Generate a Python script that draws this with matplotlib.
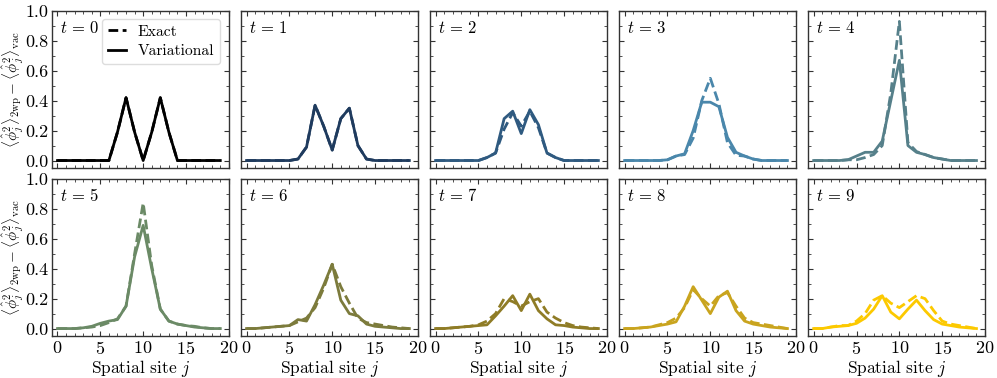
import numpy as np
import matplotlib
matplotlib.use("Agg")
import matplotlib.pyplot as plt
from matplotlib.ticker import MultipleLocator, FormatStrFormatter

plt.rcParams['font.family'] = 'serif'
plt.rcParams['font.serif'] = ['cmr10', 'DejaVu Serif']
plt.rcParams['mathtext.fontset'] = 'cm'
plt.rcParams['axes.formatter.use_mathtext'] = True
plt.rcParams['font.size'] = 12.5

sites = np.arange(20)
times = list(range(10))
colors = ['#000000', '#1f3b5e', '#2f5a80', '#4a87ab', '#56808a',
          '#6b8a66', '#7c7b3c', '#8f7c26', '#c9a41e', '#fcc900']

exact = [
    [0, 0, 0, 0, 0, 0, 0, 0.19, 0.42, 0.19, 0.0, 0.19, 0.42, 0.19, 0, 0, 0, 0, 0, 0],
    [0, 0, 0, 0, 0, 0, 0.01, 0.09, 0.37, 0.23, 0.07, 0.28, 0.35, 0.10, 0.01, 0, 0, 0, 0, 0],
    [0, 0, 0, 0, 0, 0, 0.02, 0.05, 0.21, 0.32, 0.23, 0.33, 0.22, 0.05, 0.02, 0, 0, 0, 0, 0],
    [0, 0, 0, 0, 0, 0.005, 0.03, 0.04, 0.15, 0.40, 0.55, 0.38, 0.12, 0.035, 0.03, 0.01, 0, 0, 0, 0],
    [0, 0, 0, 0, 0.005, 0.005, 0.02, 0.04, 0.10, 0.45, 0.93, 0.12, 0.06, 0.04, 0.02, 0.01, 0, 0, 0, 0],
    [0, 0, 0, 0.005, 0.01, 0.02, 0.04, 0.065, 0.15, 0.50, 0.84, 0.42, 0.13, 0.05, 0.03, 0.02, 0.015, 0.005, 0, 0],
    [0, 0, 0.005, 0.01, 0.015, 0.02, 0.045, 0.07, 0.14, 0.27, 0.43, 0.28, 0.17, 0.07, 0.04, 0.03, 0.02, 0.01, 0.005, 0],
    [0, 0, 0.005, 0.01, 0.015, 0.025, 0.05, 0.10, 0.20, 0.18, 0.15, 0.18, 0.20, 0.11, 0.07, 0.04, 0.02, 0.01, 0.005, 0],
    [0, 0, 0.005, 0.01, 0.025, 0.04, 0.07, 0.14, 0.26, 0.20, 0.15, 0.22, 0.24, 0.15, 0.07, 0.04, 0.03, 0.02, 0.01, 0],
    [0, 0, 0.01, 0.02, 0.02, 0.05, 0.10, 0.19, 0.22, 0.17, 0.14, 0.18, 0.22, 0.20, 0.12, 0.05, 0.03, 0.02, 0.01, 0],
]

variational = [
    [0, 0, 0, 0, 0, 0, 0, 0.19, 0.42, 0.19, 0.0, 0.19, 0.42, 0.19, 0, 0, 0, 0, 0, 0],
    [0, 0, 0, 0, 0, 0, 0.01, 0.09, 0.37, 0.23, 0.07, 0.28, 0.35, 0.10, 0.01, 0, 0, 0, 0, 0],
    [0, 0, 0, 0, 0, 0, 0.02, 0.05, 0.28, 0.33, 0.18, 0.34, 0.24, 0.05, 0.02, 0, 0, 0, 0, 0],
    [0, 0, 0, 0, 0, 0.005, 0.03, 0.045, 0.20, 0.39, 0.39, 0.36, 0.155, 0.055, 0.03, 0.01, 0, 0, 0, 0],
    [0, 0, 0, 0, 0.005, 0.03, 0.055, 0.055, 0.13, 0.40, 0.67, 0.10, 0.055, 0.04, 0.02, 0.01, 0, 0, 0, 0],
    [0, 0, 0, 0.005, 0.015, 0.035, 0.05, 0.06, 0.15, 0.48, 0.69, 0.40, 0.13, 0.05, 0.03, 0.02, 0.01, 0.005, 0, 0],
    [0, 0, 0.005, 0.01, 0.015, 0.02, 0.06, 0.05, 0.16, 0.29, 0.43, 0.19, 0.10, 0.085, 0.03, 0.015, 0.01, 0.005, 0, 0],
    [0, 0, 0.005, 0.01, 0.015, 0.02, 0.025, 0.085, 0.15, 0.22, 0.12, 0.23, 0.12, 0.065, 0.025, 0.02, 0.01, 0.005, 0, 0],
    [0, 0, 0.005, 0.01, 0.02, 0.03, 0.045, 0.15, 0.28, 0.19, 0.10, 0.21, 0.25, 0.12, 0.05, 0.03, 0.02, 0.01, 0.005, 0],
    [0, 0, 0.01, 0.015, 0.02, 0.035, 0.07, 0.13, 0.22, 0.11, 0.065, 0.13, 0.19, 0.12, 0.06, 0.03, 0.02, 0.01, 0.005, 0],
]

fig, axes = plt.subplots(2, 5, figsize=(9.97, 3.78), dpi=100, sharex=True, sharey=True)
fig.subplots_adjust(left=0.052, right=0.988, top=0.971, bottom=0.111, wspace=0.068, hspace=0.07)

ylabel = r'$\langle \hat{\phi}_j^2\rangle_{\mathrm{2wp}} - \langle \hat{\phi}_j^2\rangle_{\mathrm{vac}}$'

for k, ax in enumerate(axes.flat):
    c = colors[k]
    ax.plot(sites, exact[k], color=c, lw=2, ls=(0, (3.5, 1.6)), label='Exact')
    ax.plot(sites, variational[k], color=c, lw=2, ls='-', label='Variational')
    ax.set_ylim(-0.05, 1.0)
    ax.set_xlim(-0.66, 20.0)
    ax.xaxis.set_major_locator(MultipleLocator(5))
    ax.xaxis.set_minor_locator(MultipleLocator(1))
    ax.yaxis.set_major_locator(MultipleLocator(0.2))
    ax.yaxis.set_minor_locator(MultipleLocator(0.1))
    ax.yaxis.set_major_formatter(FormatStrFormatter('%.1f'))
    ax.tick_params(which='both', direction='in', top=True, right=True, color='#333333',
                   labelsize=13, pad=2.5)
    ax.tick_params(which='major', length=3.5, width=0.8)
    ax.tick_params(which='minor', length=2, width=0.6)
    for s in ax.spines.values():
        s.set_color('#333333')
        s.set_linewidth(1.0)
    ax.text(0.045, 0.862, r'$t\,=\,%d$' % times[k], transform=ax.transAxes,
            ha='left', va='baseline', fontsize=12)
    if k >= 5:
        ax.set_xlabel(r'Spatial site $j$', labelpad=1)
    if k % 5 == 0:
        ax.set_ylabel(ylabel, fontsize=11)
        ax.yaxis.set_label_coords(-0.145, 0.5)

leg = axes[0, 0].legend(loc='upper right', bbox_to_anchor=(0.952, 0.95), borderaxespad=0.0,
                        fontsize=11.2, handlelength=1.15,
                        borderpad=0.4, labelspacing=0.35, handletextpad=0.75,
                        fancybox=True, framealpha=1.0, edgecolor='#dddddd')

fig.savefig('out.png', dpi=100)
